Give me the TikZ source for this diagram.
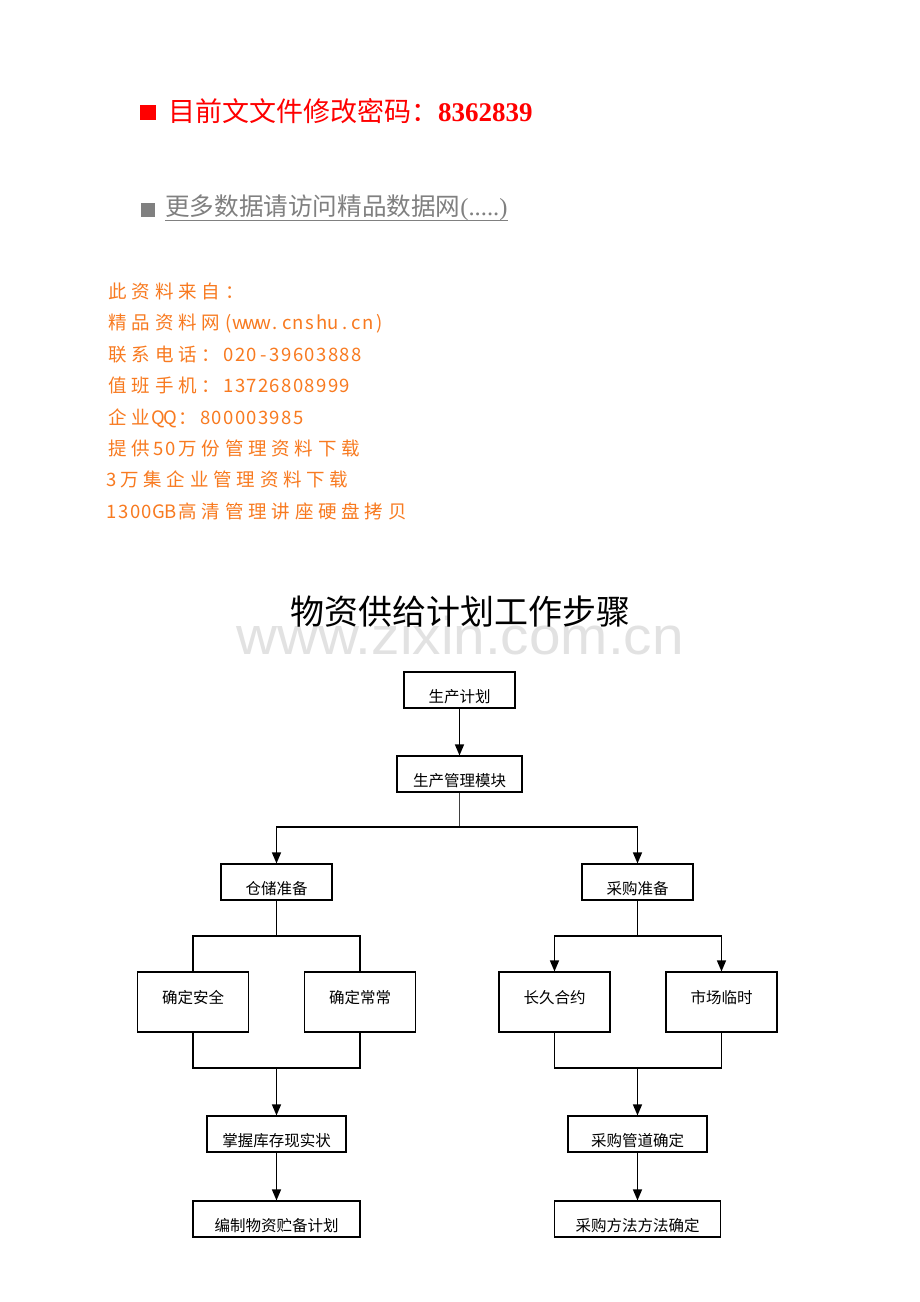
\documentclass[tikz,border=0pt]{standalone}
\usepackage{fontspec}
\setmainfont{Liberation Serif}
\newfontfamily\cjk{Noto Sans CJK SC}
\newfontfamily\wmfont{Liberation Sans}
\usetikzlibrary{arrows.meta}
\definecolor{redc}{RGB}{255,0,0}
\definecolor{orc}{RGB}{248,122,32}
\definecolor{grc}{RGB}{128,128,128}
\definecolor{wmc}{RGB}{226,226,226}
\newlength{\cw}\setlength{\cw}{23.3pt}
\makeatletter
\def\monoline#1{\mono@#1\@nil}
\def\mono@#1{\ifx#1\@nil\else\ifnum`#1<256 \makebox[0.5\cw][c]{#1}\else\makebox[\cw][c]{#1}\fi\expandafter\mono@\fi}
\makeatother
\begin{document}
\begin{tikzpicture}[x=1pt,y=-1pt,
  box/.style={draw=black,line width=1.1pt,inner sep=0pt},
  lbl/.style={inner sep=0pt,font=\cjk\fontsize{15.5}{18}\selectfont},
  arr/.style={line width=1.3pt,-{Triangle[width=9pt,length=11pt]}},
  ln/.style={line width=1.1pt},
  oline/.style={anchor=base west,inner sep=0pt,text=orc,font=\cjk\fontsize{18.5}{20}\selectfont}]
\fill[white] (0,0) rectangle (920,1302);
\useasboundingbox (0,0) rectangle (920,1302);

% header
\fill[redc] (140,105) rectangle (156,119.5);
\node[anchor=base west,inner sep=0pt,text=redc] (h1) at (168,121)
  {\cjk\fontsize{27}{30}\selectfont 目前文文件修改密码：\rmfamily\bfseries 8362839};
\fill[grc] (141,203) rectangle (155,216.5);
\node[anchor=base west,inner sep=0pt,text=grc] (h2) at (165,215.5)
  {\cjk\fontsize{24.6}{28}\selectfont 更多数据请访问精品数据网\rmfamily (.....)};
\draw[grc,line width=1pt] (h2.west |- 0,220.5) -- (h2.east |- 0,220.5);

% orange lines
\node[oline] (o1) at (106,298) {\monoline{此资料来自：}};
\node[oline] (o2) at (106,329.5) {\monoline{精品资料网(www.cnshu.cn)}};
\node[oline] (o3) at (106,361) {\monoline{联系电话：020-39603888}};
\node[oline] (o4) at (106,392.5) {\monoline{值班手机：13726808999}};
\node[oline] (o5) at (106,424) {\monoline{企业QQ：800003985}};
\node[oline] (o6) at (106,455) {\monoline{提供50万份管理资料下载}};
\node[oline] (o7) at (106,486.5) {\monoline{3万集企业管理资料下载}};
\node[oline] (o8) at (106,518) {\monoline{1300GB高清管理讲座硬盘拷贝}};

% watermark and title
\node[anchor=base,inner sep=0pt,text=wmc,font=\wmfont\fontsize{53}{53}\selectfont,xscale=1.07] (wm) at (460,654) {www.zixin.com.cn};
\node[inner sep=0pt,font=\cjk\fontsize{34}{36}\selectfont] (title) at (460,612) {物资供给计划工作步骤};

% boxes
\node[box,minimum width=111pt,minimum height=36pt] (a) at (459.5,690) {};
\node[box,minimum width=125pt,minimum height=36pt] (b) at (459.5,774) {};
\node[box,minimum width=111pt,minimum height=36pt] (c) at (276.5,882) {};
\node[box,minimum width=111pt,minimum height=36pt] (d) at (637.5,882) {};
\node[box,minimum width=111pt,minimum height=60pt] (e) at (193,1002) {};
\node[box,minimum width=111pt,minimum height=60pt] (f) at (360,1002) {};
\node[box,minimum width=111pt,minimum height=60pt] (g) at (554.5,1002) {};
\node[box,minimum width=111pt,minimum height=60pt] (h) at (721.5,1002) {};
\node[box,minimum width=139pt,minimum height=36pt] (i) at (276.5,1134) {};
\node[box,minimum width=167pt,minimum height=36pt] (j) at (276.5,1219) {};
\node[box,minimum width=139pt,minimum height=36pt] (k) at (637.5,1134) {};
\node[box,minimum width=166pt,minimum height=36pt] (l) at (637.5,1219) {};

% labels
\node[lbl] (ta) at (459.5,697) {生产计划};
\node[lbl] (tb) at (459.5,781) {生产管理模块};
\node[lbl] (tc) at (276.5,889) {仓储准备};
\node[lbl] (td) at (637.5,889) {采购准备};
\node[lbl] (te) at (193,998) {确定安全};
\node[lbl] (tf) at (360,998) {确定常常};
\node[lbl] (tg) at (554.5,998) {长久合约};
\node[lbl] (th) at (721.5,998) {市场临时};
\node[lbl] (ti) at (276.5,1141) {掌握库存现实状};
\node[lbl] (tj) at (276.5,1226) {编制物资贮备计划};
\node[lbl] (tk) at (637.5,1141) {采购管道确定};
\node[lbl] (tl) at (637.5,1226) {采购方法方法确定};

% connectors
\coordinate (m1) at (459.5,827);
\coordinate (mc) at (276.5,936);
\coordinate (md) at (637.5,936);
\coordinate (ml) at (276.5,1068);
\coordinate (mr) at (637.5,1068);
\draw[arr] (a.south) -- (b.north);
\draw[line width=0.8pt,black!75] (b.south) -- (m1);
\draw[arr] (m1) -| (c.north);
\draw[arr] (m1) -| (d.north);
\draw[ln] (c.south) -- (mc);
\draw[ln] (e.north) |- (mc) -| (f.north);
\draw[ln] (d.south) -- (md);
\draw[arr] (md) -| (g.north);
\draw[arr] (md) -| (h.north);
\draw[ln] (e.south) |- (ml) -| (f.south);
\draw[ln] (g.south) |- (mr) -| (h.south);
\draw[arr] (ml) -- (i.north);
\draw[arr] (mr) -- (k.north);
\draw[arr] (i.south) -- (j.north);
\draw[arr] (k.south) -- (l.north);
\end{tikzpicture}
\end{document}
